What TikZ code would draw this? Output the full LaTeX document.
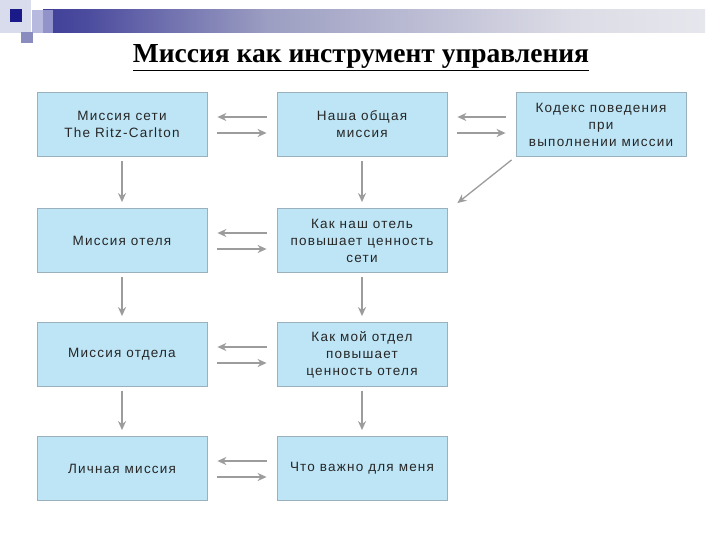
\documentclass[tikz,border=0pt]{standalone}
\usepackage{fontspec}
\setmainfont{Liberation Serif}
\newfontfamily\boxfont[LetterSpace=9]{Liberation Sans}
\usetikzlibrary{arrows.meta}
\definecolor{boxfill}{HTML}{BEE5F6}
\definecolor{boxline}{HTML}{9AB0BC}
\definecolor{arr}{HTML}{9C9C9C}
\definecolor{navy}{HTML}{1A1A88}
\definecolor{bar2}{HTML}{4A4A9E}
\definecolor{bar3}{HTML}{9C9EC2}
\definecolor{bar4}{HTML}{DCDCE6}
\definecolor{logo1}{HTML}{D8DCEC}
\definecolor{logo2}{HTML}{A6A8D6}
\definecolor{logo3}{HTML}{8A8CC0}
\pgfdeclarehorizontalshading{barshade}{100bp}{
  color(0bp)=(navy); color(15bp)=(navy); color(28bp)=(bar2); color(42bp)=(bar3); color(65bp)=(bar4); color(100bp)=(white)}
\tikzset{
  x=1pt, y=-1pt,
  mbox/.style={draw=boxline, line width=0.8pt, fill=boxfill, minimum width=170pt, minimum height=64pt,
    inner sep=2pt, align=center, font=\boxfont\fontsize{13.5}{17}\selectfont, text=black!85},
  conn/.style={draw=arr, line width=1.8pt, -{Stealth[length=9pt,width=8pt]}},
}
\begin{document}
\begin{tikzpicture}
\useasboundingbox (0,0) rectangle (720,540);
% decorative header
\fill[logo1] (0,0) rectangle (31,33);
\shade[shading=barshade] (43,10) rectangle (705,33);
\fill[logo2, opacity=0.8] (32,10) rectangle (53,33);
\fill[navy] (10,9) rectangle (22,22);
\fill[logo3] (21,32) rectangle (33,43);
% title
\node[font=\fontsize{27.5}{30}\selectfont\bfseries, anchor=base] (title) at (361,63) {\underline{Миссия как инструмент управления}};
% boxes
\node[mbox] (a1) at (122,124.5) {Миссия сети\\The Ritz-Carlton};
\node[mbox] (b1) at (362,124.5) {Наша общая\\миссия};
\node[mbox] (c1) at (601,124.5) {Кодекс поведения\\при\\выполнении миссии};
\node[mbox] (a2) at (122,240.5) {Миссия отеля};
\node[mbox] (b2) at (362,240.5) {Как наш отель\\повышает ценность\\сети};
\node[mbox] (a3) at (122,354.5) {Миссия отдела};
\node[mbox] (b3) at (362,354.5) {Как мой отдел\\повышает\\ценность отеля};
\node[mbox] (a4) at (122,468.5) {Личная миссия};
\node[mbox] (b4) at (362,468.5) {Что важно для меня};
% horizontal arrow pairs
\foreach \l/\r in {a1/b1, a2/b2, a3/b3, a4/b4, b1/c1} {
  \draw[conn] ([xshift=-10pt,yshift=7.5pt]\r.west) -- ([xshift=10pt,yshift=7.5pt]\l.east);
  \draw[conn] ([xshift=10pt,yshift=-8.5pt]\l.east) -- ([xshift=-10pt,yshift=-8.5pt]\r.west);
}
% vertical arrows
\foreach \u/\d in {a1/a2, a2/a3, a3/a4, b1/b2, b2/b3, b3/b4} {
  \draw[conn] ([yshift=-4pt]\u.south) -- ([yshift=6pt]\d.north);
}
% diagonal
\draw[conn, line width=1.3pt] ([xshift=-4pt,yshift=-3pt]c1.south west) -- ([xshift=10pt,yshift=5pt]b2.north east);
\end{tikzpicture}
\end{document}
